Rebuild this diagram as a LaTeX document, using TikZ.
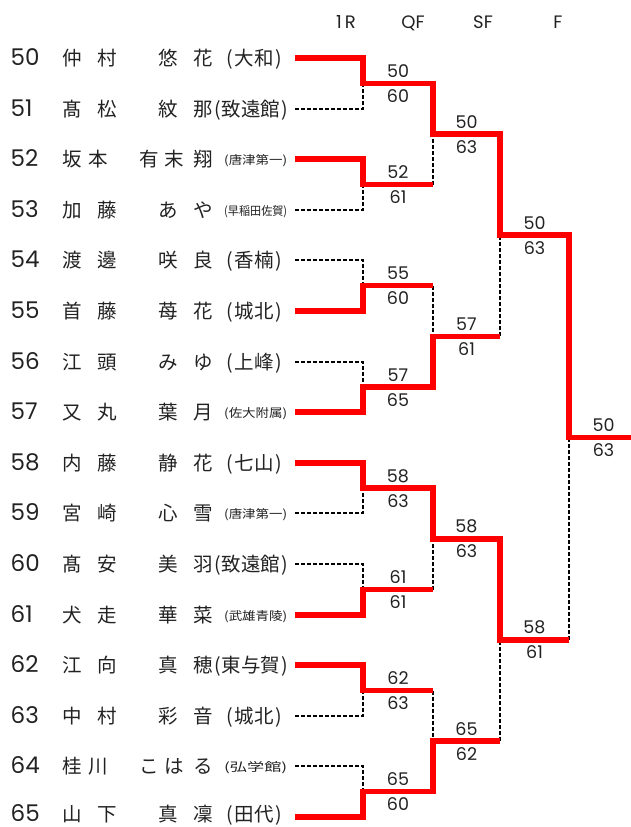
\documentclass[tikz,border=0pt]{standalone}
\usepackage{fontspec}
\usepackage{graphicx}
\setmainfont{Poppins}
\newfontfamily\jfont{Noto Sans CJK JP}
\usetikzlibrary{positioning}

\definecolor{txtgray}{HTML}{222222}
\definecolor{winred}{HTML}{FF0000}

% small school names are squeezed into one width
\newcommand{\smsch}[1]{\resizebox{63pt}{10pt}{(#1)}}

\tikzset{
  num/.style={anchor=base west, inner sep=0pt, text depth=0pt, text=txtgray, font=\fontsize{23}{23}\selectfont},
  fam/.style={anchor=base west, inner sep=0pt, text=txtgray, font=\jfont\fontsize{19.5}{20}\selectfont},
  giv/.style={anchor=base east, inner sep=0pt, text=txtgray, font=\jfont\fontsize{19.5}{20}\selectfont},
  sch/.style={anchor=base west, inner sep=0pt, text=txtgray, font=\jfont\fontsize{19.5}{20}\selectfont},
  smallsch/.style={anchor=base west, inner sep=0pt, text=txtgray, font=\jfont},
  head/.style={anchor=base, inner sep=0pt, text=txtgray, font=\fontsize{18}{18}\selectfont},
  hi/.style={midway, anchor=base, inner sep=0pt, yshift=6pt, text=txtgray, font=\fontsize{17.5}{17.5}\selectfont},
  lo/.style={midway, anchor=base, inner sep=0pt, yshift=-19pt, text=txtgray, font=\fontsize{17.5}{17.5}\selectfont},
  win/.style={draw=winred, line width=5.5pt, line join=miter, line cap=butt},
  lose/.style={draw=black, line width=1.3pt, dash pattern=on 4pt off 2pt}
}

\begin{document}
\begin{tikzpicture}[x=1pt, y=-1pt]
  \useasboundingbox (0,0) rectangle (631,827);

  % round headers
  \node[head] (h1) at (346,28.5) {1\,R};
  \node[head] (h2) at (413,28.5) {QF};
  \node[head] (h3) at (483,28.5) {SF};
  \node[head] (h4) at (558,28.5) {F};

  % players
  \node[num] (no50) at (10.5,65) {50};
  \node[fam] (fam50) at (62,65) {仲\hspace{16pt}村};
  \node[giv] (giv50) at (213,65) {悠\hspace{15pt}花};
  \node[sch] (sch50) at (226,65) {(\kern2pt大和\kern2pt)};

  \node[num] (no51) at (10.5,116) {51};
  \node[fam] (fam51) at (62,116) {髙\hspace{16pt}松};
  \node[giv] (giv51) at (213,116) {紋\hspace{15pt}那};
  \node[sch] (sch51) at (214,116) {(\kern1pt致遠館\kern1pt)};

  \node[num] (no52) at (10.5,166) {52};
  \node[fam] (fam52) at (62,166) {坂\hspace{7pt}本};
  \node[giv] (giv52) at (213,166) {有\hspace{5.5pt}末\hspace{9pt}翔};
  \node[smallsch] (sch52) at (224,164.5) {\smsch{唐津第一}};

  \node[num] (no53) at (10.5,217) {53};
  \node[fam] (fam53) at (62,217) {加\hspace{16pt}藤};
  \node[giv] (giv53) at (213,217) {あ\hspace{15pt}や};
  \node[smallsch] (sch53) at (224,215.5) {\smsch{早稲田佐賀}};

  \node[num] (no54) at (10.5,267) {54};
  \node[fam] (fam54) at (62,267) {渡\hspace{16pt}邊};
  \node[giv] (giv54) at (213,267) {咲\hspace{15pt}良};
  \node[sch] (sch54) at (226,267) {(\kern2pt香楠\kern2pt)};

  \node[num] (no55) at (10.5,318) {55};
  \node[fam] (fam55) at (62,318) {首\hspace{16pt}藤};
  \node[giv] (giv55) at (213,318) {苺\hspace{15pt}花};
  \node[sch] (sch55) at (226,318) {(\kern2pt城北\kern2pt)};

  \node[num] (no56) at (10.5,369) {56};
  \node[fam] (fam56) at (62,369) {江\hspace{16pt}頭};
  \node[giv] (giv56) at (213,369) {み\hspace{15pt}ゆ};
  \node[sch] (sch56) at (226,369) {(\kern2pt上峰\kern2pt)};

  \node[num] (no57) at (10.5,419) {57};
  \node[fam] (fam57) at (62,419) {又\hspace{16pt}丸};
  \node[giv] (giv57) at (213,419) {葉\hspace{15pt}月};
  \node[smallsch] (sch57) at (224,417.5) {\smsch{佐大附属}};

  \node[num] (no58) at (10.5,470) {58};
  \node[fam] (fam58) at (62,470) {内\hspace{16pt}藤};
  \node[giv] (giv58) at (213,470) {静\hspace{15pt}花};
  \node[sch] (sch58) at (226,470) {(\kern2pt七山\kern2pt)};

  \node[num] (no59) at (10.5,520) {59};
  \node[fam] (fam59) at (62,520) {宮\hspace{16pt}崎};
  \node[giv] (giv59) at (213,520) {心\hspace{15pt}雪};
  \node[smallsch] (sch59) at (224,518.5) {\smsch{唐津第一}};

  \node[num] (no60) at (10.5,571) {60};
  \node[fam] (fam60) at (62,571) {髙\hspace{16pt}安};
  \node[giv] (giv60) at (213,571) {美\hspace{15pt}羽};
  \node[sch] (sch60) at (214,571) {(\kern1pt致遠館\kern1pt)};

  \node[num] (no61) at (10.5,622) {61};
  \node[fam] (fam61) at (62,622) {犬\hspace{16pt}走};
  \node[giv] (giv61) at (213,622) {華\hspace{15pt}菜};
  \node[smallsch] (sch61) at (224,620.5) {\smsch{武雄青陵}};

  \node[num] (no62) at (10.5,672) {62};
  \node[fam] (fam62) at (62,672) {江\hspace{16pt}向};
  \node[giv] (giv62) at (213,672) {真\hspace{15pt}穂};
  \node[sch] (sch62) at (214,672) {(\kern1pt東与賀\kern1pt)};

  \node[num] (no63) at (10.5,723) {63};
  \node[fam] (fam63) at (62,723) {中\hspace{16pt}村};
  \node[giv] (giv63) at (213,723) {彩\hspace{15pt}音};
  \node[sch] (sch63) at (226,723) {(\kern2pt城北\kern2pt)};

  \node[num] (no64) at (10.5,773) {64};
  \node[fam] (fam64) at (62,773) {桂\hspace{7pt}川};
  \node[giv] (giv64) at (213,773) {こ\hspace{5.5pt}は\hspace{9pt}る};
  \node[smallsch] (sch64) at (224,771.5) {\smsch{弘学館}};

  \node[num] (no65) at (10.5,821.5) {65};
  \node[fam] (fam65) at (62,821.5) {山\hspace{16pt}下};
  \node[giv] (giv65) at (213,821.5) {真\hspace{15pt}凜};
  \node[sch] (sch65) at (226,821.5) {(\kern2pt田代\kern2pt)};

  % line starts
  \coordinate (pl50) at (295,58);
  \coordinate (pl51) at (295,109);
  \coordinate (pl52) at (295,159);
  \coordinate (pl53) at (295,210);
  \coordinate (pl54) at (295,260);
  \coordinate (pl55) at (295,311);
  \coordinate (pl56) at (295,362);
  \coordinate (pl57) at (295,412);
  \coordinate (pl58) at (295,463);
  \coordinate (pl59) at (295,513);
  \coordinate (pl60) at (295,564);
  \coordinate (pl61) at (295,615);
  \coordinate (pl62) at (295,665);
  \coordinate (pl63) at (295,716);
  \coordinate (pl64) at (295,766);
  \coordinate (pl65) at (295,817);

  % 1R joins and QF lines
  \coordinate (r1) at (363,83.5);   \coordinate (qf1) at (433,83.5);
  \coordinate (r2) at (363,184.5);  \coordinate (qf2) at (433,184.5);
  \coordinate (r3) at (363,285.5);  \coordinate (qf3) at (433,285.5);
  \coordinate (r4) at (363,387);    \coordinate (qf4) at (433,387);
  \coordinate (r5) at (363,488);    \coordinate (qf5) at (433,488);
  \coordinate (r6) at (363,589.5);  \coordinate (qf6) at (433,589.5);
  \coordinate (r7) at (363,690.5);  \coordinate (qf7) at (433,690.5);
  \coordinate (r8) at (363,791.5);  \coordinate (qf8) at (433,791.5);

  % QF joins and SF lines
  \coordinate (qj1) at (433,134);    \coordinate (sf1) at (500,134);
  \coordinate (qj2) at (433,336.25); \coordinate (sf2) at (500,336.25);
  \coordinate (qj3) at (433,538.75); \coordinate (sf3) at (500,538.75);
  \coordinate (qj4) at (433,741);    \coordinate (sf4) at (500,741);

  % SF joins, F lines, final
  \coordinate (sj1) at (500,235.1); \coordinate (fn1) at (569,235.1);
  \coordinate (sj2) at (500,639.9); \coordinate (fn2) at (569,639.9);
  \coordinate (fj) at (569,437.5);
  \coordinate (champ) at (631,437.5);

  % losers
  \draw[lose] (pl51) -| (r1);
  \draw[lose] (pl53) -| (r2);
  \draw[lose] (pl54) -| (r3);
  \draw[lose] (pl56) -| (r4);
  \draw[lose] (pl59) -| (r5);
  \draw[lose] (pl60) -| (r6);
  \draw[lose] (pl63) -| (r7);
  \draw[lose] (pl64) -| (r8);
  \draw[lose] (qf2) -- (qj1);
  \draw[lose] (qf3) -- (qj2);
  \draw[lose] (qf6) -- (qj3);
  \draw[lose] (qf7) -- (qj4);
  \draw[lose] (sf2) -- (sj1);
  \draw[lose] (sf4) -- (sj2);
  \draw[lose] (fn2) -- (fj);

  % winners
  \draw[win] (pl50) -| (r1) -- (qf1) -- (qj1) -- (sf1) -- (sj1) -- (fn1) -- (fj) -- (champ);
  \draw[win] (pl52) -| (r2) -- (qf2);
  \draw[win] (pl55) -| (r3) -- (qf3);
  \draw[win] (pl57) -| (r4) -- (qf4) -- (qj2) -- (sf2);
  \draw[win] (pl58) -| (r5) -- (qf5) -- (qj3) -- (sf3) -- (sj2) -- (fn2);
  \draw[win] (pl61) -| (r6) -- (qf6);
  \draw[win] (pl62) -| (r7) -- (qf7);
  \draw[win] (pl65) -| (r8) -- (qf8) -- (qj4) -- (sf4);

  % scores
  \path (r1) -- (qf1) node[hi] (t1) {50} node[lo] (b1) {60};
  \path (r2) -- (qf2) node[hi] (t2) {52} node[lo] (b2) {61};
  \path (r3) -- (qf3) node[hi] (t3) {55} node[lo] (b3) {60};
  \path (r4) -- (qf4) node[hi] (t4) {57} node[lo] (b4) {65};
  \path (r5) -- (qf5) node[hi] (t5) {58} node[lo] (b5) {63};
  \path (r6) -- (qf6) node[hi] (t6) {61} node[lo] (b6) {61};
  \path (r7) -- (qf7) node[hi] (t7) {62} node[lo] (b7) {63};
  \path (r8) -- (qf8) node[hi] (t8) {65} node[lo] (b8) {60};
  \path (qj1) -- (sf1) node[hi] (t9) {50} node[lo] (b9) {63};
  \path (qj2) -- (sf2) node[hi] (t10) {57} node[lo] (b10) {61};
  \path (qj3) -- (sf3) node[hi] (t11) {58} node[lo] (b11) {63};
  \path (qj4) -- (sf4) node[hi] (t12) {65} node[lo] (b12) {62};
  \path (sj1) -- (fn1) node[hi] (t13) {50} node[lo] (b13) {63};
  \path (sj2) -- (fn2) node[hi] (t14) {58} node[lo] (b14) {61};
  \path (fj) -- ([xshift=7pt]champ) node[hi] (t15) {50} node[lo] (b15) {63};
\end{tikzpicture}
\end{document}
